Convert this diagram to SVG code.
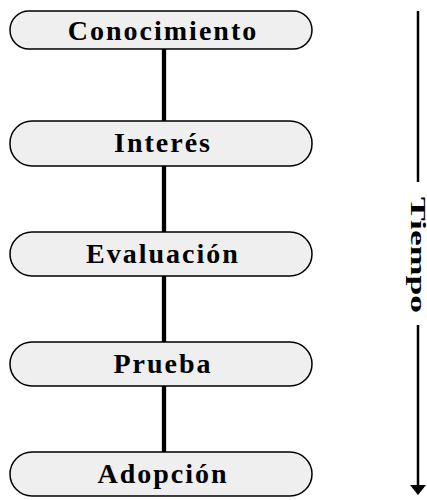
<svg xmlns="http://www.w3.org/2000/svg" width="427" height="500" viewBox="0 0 427 500">
<defs>
<style>
.box{fill:#efefef;stroke:#000;stroke-width:1.5}
.lbl{font-family:"Liberation Serif","Times New Roman",serif;font-weight:bold;font-size:28px;letter-spacing:2px;text-anchor:middle;fill:#000}
.tl{font-family:"Liberation Serif","Times New Roman",serif;font-weight:bold;font-size:20px;text-anchor:middle;fill:#000}
.conn{stroke:#000;stroke-width:4.3;fill:none}
.time{stroke:#000;stroke-width:2.5;fill:none}
</style>
</defs>
<rect width="427" height="500" fill="#fff"/>
<g id="connectors">
<line class="conn" x1="164" y1="49" x2="164" y2="122"/>
<line class="conn" x1="164" y1="166" x2="164" y2="232"/>
<line class="conn" x1="164" y1="276" x2="164" y2="342"/>
<line class="conn" x1="164" y1="386" x2="164" y2="452"/>
</g>
<g id="n1"><rect class="box" x="10" y="11" width="302" height="38" rx="19" ry="19"/><text class="lbl" x="163" y="40">Conocimiento</text></g>
<g id="n2"><rect class="box" x="10" y="121" width="302" height="45" rx="22" ry="22"/><text class="lbl" x="163" y="152">Interés</text></g>
<g id="n3"><rect class="box" x="10" y="232" width="302" height="44" rx="22" ry="22"/><text class="lbl" x="163" y="263">Evaluación</text></g>
<g id="n4"><rect class="box" x="10" y="342" width="302" height="44" rx="22" ry="22"/><text class="lbl" x="163" y="373">Prueba</text></g>
<g id="n5"><rect class="box" x="10" y="452" width="302" height="44" rx="22" ry="22"/><text class="lbl" x="163" y="483">Adopción</text></g>
<g id="tiempo">
<line class="time" x1="418" y1="11" x2="418" y2="182"/>
<line class="time" x1="418" y1="325" x2="418" y2="485"/>
<path d="M410,485 L426,485 L418,495 Z" fill="#000"/>
<text class="tl" transform="translate(411,255) rotate(90)" x="0" y="0" textLength="116" lengthAdjust="spacingAndGlyphs">Tiempo</text>
</g>
</svg>
